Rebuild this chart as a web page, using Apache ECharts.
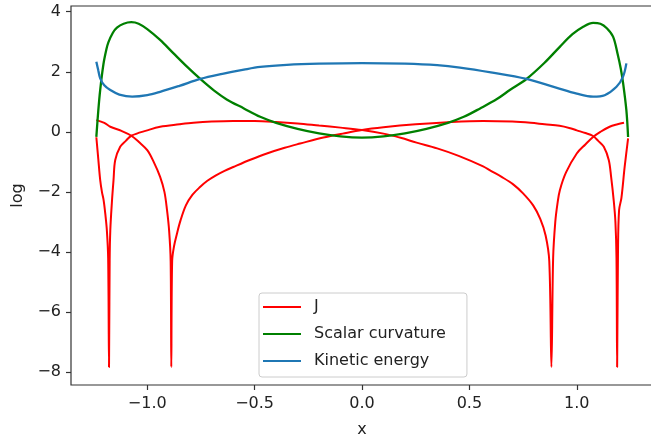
<!DOCTYPE html>
<html><head><meta charset="utf-8">
<script src="https://cdn.jsdelivr.net/npm/echarts@6/dist/echarts.min.js"></script>
<style>html,body{margin:0;padding:0;background:#fff}#c{width:651px;height:444px}</style>
</head><body><div id="c"></div><script>
// J, branch with dips at about -0.888 and +1.188
const jAx = [-1.237,-1.2,-1.172,-1.12,-1.074,-1.04,-1.0,-0.97,-0.94,-0.92,-0.908,-0.898,-0.891,-0.888,-0.884,-0.875,-0.862,-0.845,-0.82,-0.79,-0.753,-0.72,-0.68,-0.64,-0.599,-0.52,-0.443,-0.36,-0.288,-0.18,-0.09,0,0.1,0.25,0.4,0.564,0.7,0.785,0.85,0.92,0.97,1.0,1.04,1.074,1.1,1.126,1.149,1.16,1.172,1.18,1.185,1.188,1.192,1.197,1.208,1.223,1.239];
const jAy = [0.39,0.3,0.17,0.03,-0.13,-0.33,-0.61,-1.0,-1.5,-2.0,-2.6,-3.3,-4.3,-7.83,-4.3,-3.8,-3.4,-2.95,-2.45,-2.1,-1.83,-1.63,-1.45,-1.3,-1.17,-0.93,-0.72,-0.53,-0.39,-0.19,-0.06,0.06,0.15,0.25,0.32,0.36,0.34,0.3,0.25,0.2,0.12,0.05,-0.04,-0.13,-0.3,-0.5,-0.94,-1.5,-2.28,-3.0,-4.2,-7.83,-4.0,-2.61,-2.2,-1.17,-0.22];
// J, branch with dips at about -1.177 and +0.882
const jBx = [-1.237,-1.228,-1.219,-1.211,-1.203,-1.195,-1.188,-1.182,-1.178,-1.175,-1.172,-1.164,-1.157,-1.149,-1.126,-1.1,-1.074,-1.0,-0.94,-0.85,-0.785,-0.7,-0.6,-0.5,-0.4,-0.3,-0.2,-0.1,0,0.1,0.18,0.254,0.35,0.45,0.564,0.6,0.65,0.704,0.75,0.797,0.83,0.855,0.872,0.882,0.89,0.9,0.91,0.921,0.95,1.0,1.04,1.076,1.11,1.153,1.19,1.22];
const jBy = [-0.18,-0.9,-1.61,-2.0,-2.28,-2.75,-3.28,-4.2,-7.83,-4.3,-3.28,-2.28,-1.61,-0.94,-0.5,-0.3,-0.13,0.05,0.17,0.25,0.3,0.34,0.36,0.36,0.33,0.28,0.21,0.14,0.06,-0.06,-0.2,-0.36,-0.55,-0.8,-1.15,-1.3,-1.5,-1.75,-2.05,-2.45,-2.9,-3.45,-4.3,-7.83,-4.2,-3.0,-2.4,-1.95,-1.35,-0.72,-0.42,-0.17,0.0,0.17,0.25,0.3];
// Scalar curvature
const scX = [-1.237,-1.228,-1.219,-1.204,-1.19,-1.181,-1.16,-1.141,-1.11,-1.074,-1.04,-1.0,-0.94,-0.88,-0.815,-0.753,-0.69,-0.63,-0.55,-0.474,-0.4,-0.3,-0.2,-0.1,0,0.1,0.2,0.3,0.4,0.474,0.55,0.63,0.69,0.766,0.85,0.921,0.98,1.03,1.076,1.11,1.14,1.169,1.19,1.205,1.216,1.231,1.239];
const scY = [-0.17,0.7,1.4,2.25,2.75,2.98,3.3,3.47,3.6,3.65,3.6,3.42,3.06,2.63,2.17,1.76,1.38,1.08,0.78,0.5,0.3,0.1,-0.05,-0.15,-0.19,-0.15,-0.05,0.1,0.3,0.5,0.78,1.1,1.4,1.76,2.3,2.83,3.25,3.5,3.63,3.6,3.45,3.17,2.6,2.1,1.61,0.72,-0.17];
// Kinetic energy
const keX = [-1.237,-1.228,-1.219,-1.2,-1.172,-1.13,-1.07,-1.0,-0.94,-0.85,-0.753,-0.65,-0.55,-0.474,-0.35,-0.2,0,0.2,0.35,0.456,0.6,0.766,0.9,1.0,1.076,1.13,1.185,1.215,1.231];
const keY = [2.33,2.05,1.78,1.55,1.39,1.24,1.17,1.22,1.33,1.53,1.76,1.93,2.07,2.16,2.23,2.27,2.29,2.27,2.22,2.14,1.98,1.76,1.48,1.27,1.17,1.22,1.5,1.83,2.28];

const xTicks = [-1.0,-0.5,0.0,0.5,1.0];
const xTickLabels = ['\u22121.0','\u22120.5','0.0','0.5','1.0'];
const yTicks = [-8,-6,-4,-2,0,2,4];
const yTickLabels = ['\u22128','\u22126','\u22124','\u22122','0','2','4'];

const zip = (xs, ys) => xs.map((x, i) => [x, ys[i]]);
const lab = (ticks, labels) => v => { const i = ticks.findIndex(t => Math.abs(t - v) < 1e-9); return i >= 0 ? labels[i] : ''; };
const FONT = 'DejaVu Sans';
const axisText = {fontSize: 16, color: '#222', fontFamily: FONT};

const chart = echarts.init(document.getElementById('c'), null, {renderer: 'canvas'});
chart.setOption({
  animation: false,
  backgroundColor: '#fff',
  grid: {left: 71, top: 6, width: 582, height: 379, show: true, borderColor: '#333', borderWidth: 1.2, outerBoundsMode: 'none', containLabel: false},
  xAxis: {
    type: 'value', min: -1.355, max: 1.355,
    name: 'x', nameLocation: 'middle', nameGap: 37, nameTextStyle: axisText,
    axisLine: {show: false, onZero: false},
    splitLine: {show: false},
    axisTick: {show: true, length: 5, lineStyle: {color: '#333', width: 1.2}, customValues: xTicks},
    axisLabel: {margin: 11, ...axisText, customValues: xTicks, formatter: lab(xTicks, xTickLabels)}
  },
  yAxis: {
    type: 'value', min: -8.43, max: 4.19,
    name: 'log', nameLocation: 'middle', nameGap: 45, nameRotate: 90, nameTextStyle: axisText,
    axisLine: {show: false, onZero: false},
    splitLine: {show: false},
    axisTick: {show: true, length: 5, lineStyle: {color: '#333', width: 1.2}, customValues: yTicks},
    axisLabel: {margin: 10, ...axisText, customValues: yTicks, formatter: lab(yTicks, yTickLabels)}
  },
  legend: {
    left: 259, top: 293, orient: 'vertical',
    icon: 'rect', itemWidth: 38, itemHeight: 2.2, itemGap: 9,
    padding: [5, 21, 7, 4],
    borderColor: '#ccc', borderWidth: 1, borderRadius: 3,
    backgroundColor: 'rgba(255,255,255,0.85)',
    textStyle: {fontSize: 16, color: '#222', fontFamily: FONT, lineHeight: 18, padding: [0, 0, 0, 8]},
    data: ['J', 'Scalar curvature', 'Kinetic energy']
  },
  series: [
    {name: 'J', type: 'line', data: zip(jAx, jAy), symbol: 'none', smooth: 0.35, color: '#ff0000', lineStyle: {width: 2, color: '#ff0000'}},
    {name: 'J', type: 'line', data: zip(jBx, jBy), symbol: 'none', smooth: 0.35, color: '#ff0000', lineStyle: {width: 2, color: '#ff0000'}},
    {name: 'Scalar curvature', type: 'line', data: zip(scX, scY), symbol: 'none', smooth: 0.35, color: '#008000', lineStyle: {width: 2.3, color: '#008000'}},
    {name: 'Kinetic energy', type: 'line', data: zip(keX, keY), symbol: 'none', smooth: 0.35, color: '#1f77b4', lineStyle: {width: 2.3, color: '#1f77b4'}}
  ]
});
</script></body></html>
